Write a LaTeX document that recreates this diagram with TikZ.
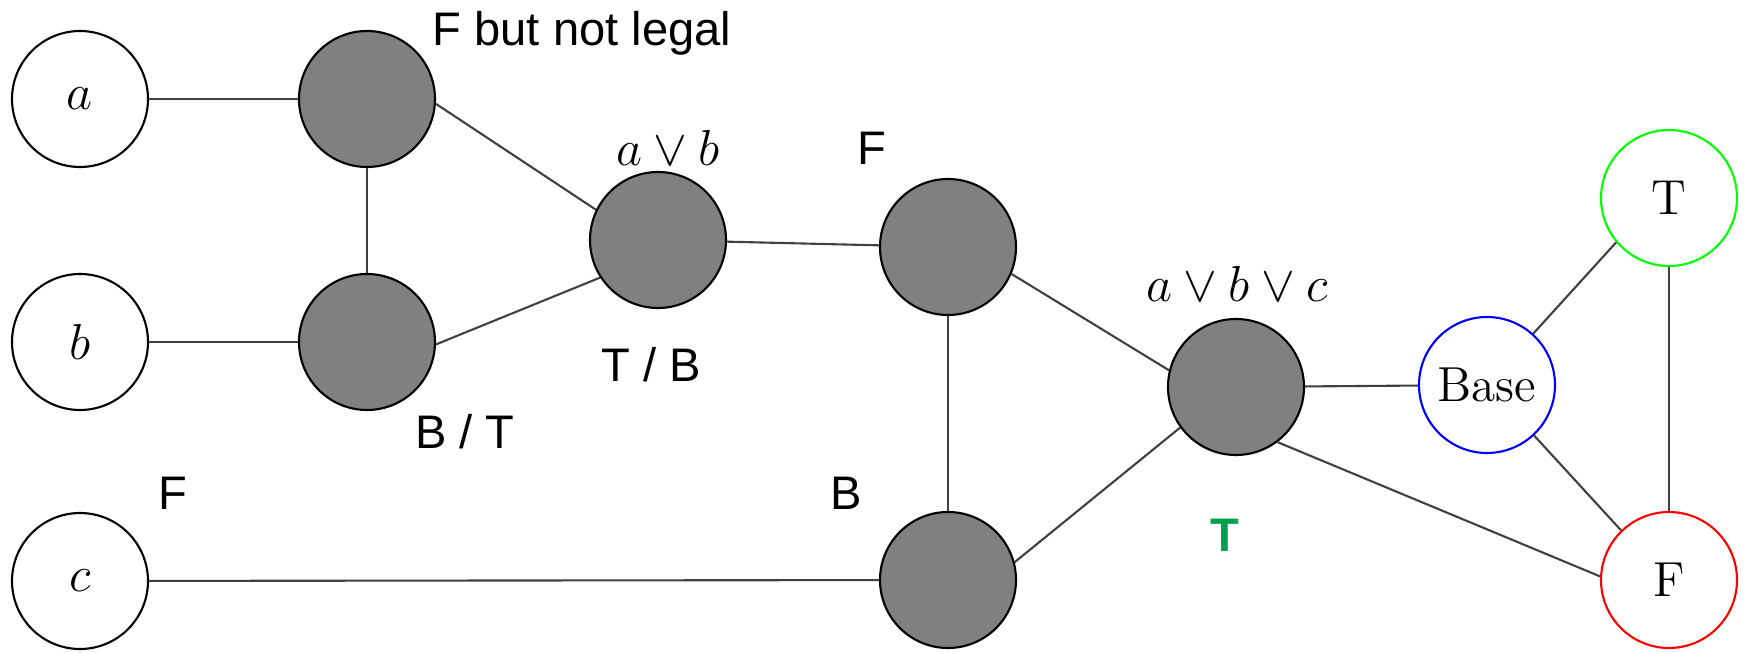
\documentclass[tikz,border=0pt]{standalone}
\usepackage{fontspec}
\newfontfamily\notefont{Liberation Sans}
\usetikzlibrary{positioning}
\definecolor{valgreen}{RGB}{0,160,80}
\tikzset{
  varnode/.style={
    circle,
    draw=black,
    line width=0.6pt,
    fill=white,
    minimum size=13.6mm,
    inner sep=0pt,
    font=\fontsize{14}{16}\selectfont
  },
  gatenode/.style={
    varnode,
    fill=black!50
  },
  link/.style={draw=black!75, line width=0.6pt},
  note/.style={font=\notefont\fontsize{13.4}{16}\selectfont, align=center},
  mathnote/.style={font=\fontsize{14}{16}\selectfont}
}
\begin{document}
\begin{tikzpicture}[x=1cm,y=1cm]
\useasboundingbox (0,0) rectangle (17.46,6.52);
\node[varnode] (a) at (0.80,5.53) {$a$};
\node[varnode] (b) at (0.80,3.10) {$b$};
\node[varnode] (c) at (0.80,0.71) {$c$};
\node[gatenode] (ga1) at (3.67,5.53) {};
\node[gatenode] (gb1) at (3.67,3.10) {};
\node[gatenode] (orab) at (6.58,4.12) {};
\node[gatenode] (gc1) at (9.48,4.05) {};
\node[gatenode] (gc2) at (9.48,0.72) {};
\node[gatenode] (orabc) at (12.36,2.65) {};
\node[varnode, draw=blue] (base) at (14.87,2.67) {Base};
\node[varnode, draw=green] (true) at (16.69,4.54) {T};
\node[varnode, draw=red] (false) at (16.69,0.72) {F};

\node[note] (notlegal) at (5.82,6.19) {F but not legal};
\node[mathnote] (abtext) at (6.68,5.04) {$a \vee b$};
\node[note] (tbtext) at (6.51,2.87) {T / B};
\node[note] (bttext) at (4.65,2.20) {B / T};
\node[note] (ftext) at (8.72,5.04) {F};
\node[note] (cftext) at (1.73,1.59) {F};
\node[note] (btext) at (8.46,1.59) {B};
\node[mathnote] (abctext) at (12.37,3.68) {$a \vee b \vee c$};
\node[note, text=valgreen, font=\notefont\bfseries\fontsize{13.4}{16}\selectfont] (ttext) at (12.25,1.17) {T};

\draw[link] (a) -- (ga1);
\draw[link] (b) -- (gb1);
\draw[link] (ga1) -- (gb1);
\draw[link] (ga1.-4) -- (orab.154);
\draw[link] (gb1.-2) -- (orab.213);
\draw[link] (orab) -- (gc1);
\draw[link] (gc1) -- (gc2);
\draw[link] (gc1.-23) -- (orabc.166);
\draw[link] (gc2.15) -- (orabc.216);
\draw[link] (c) -- (gc2);
\draw[link] (orabc) -- (base);
\draw[link] (orabc.-53) -- (false.177);
\draw[link] (base.48) -- (true.220);
\draw[link] (base.-47) -- (false.134);
\draw[link] (true) -- (false);
\end{tikzpicture}
\end{document}
